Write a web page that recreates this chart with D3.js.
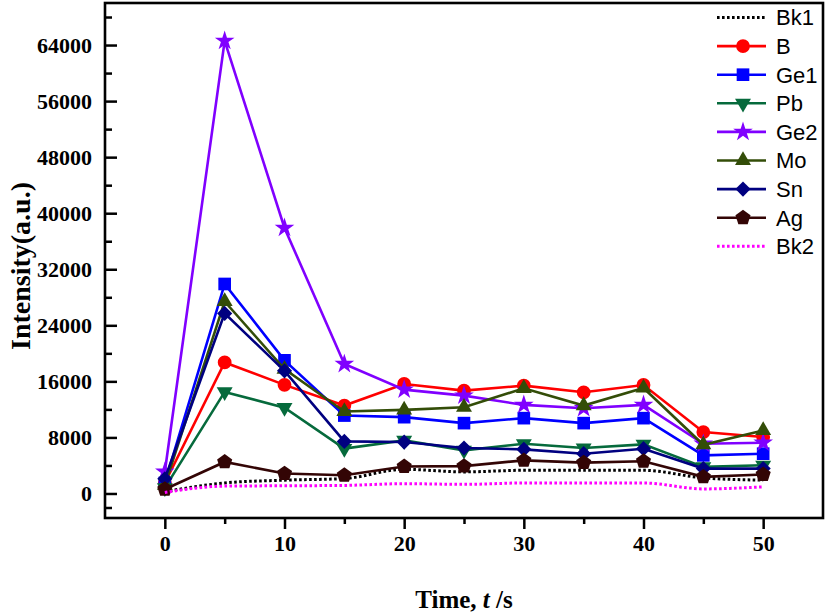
<!DOCTYPE html>
<html><head><meta charset="utf-8">
<script src="https://cdn.jsdelivr.net/npm/d3@7"></script>
<style>body{margin:0;background:#fff}</style>
</head><body><svg id="c" width="829" height="616"></svg>
<script>
const times = [0,5,10,15,20,25,30,35,40,45,50];
const bk1 = [250, 1500, 1900, 2130, 3450, 3080, 3310, 3310, 3310, 2230, 1900];
const b   = [1500, 18700, 15500, 12550, 15630, 14680, 15390, 14440, 15480, 8760, 8050];
const ge1 = [1500, 29900, 19000, 11120, 10890, 10040, 10750, 10040, 10750, 5440, 5680];
const pb  = [800, 14500, 12250, 6400, 7570, 6160, 7100, 6490, 7010, 3790, 4020];
const ge2 = [3100, 64600, 37900, 18470, 14820, 13970, 12640, 12170, 12640, 7100, 7240];
const mo  = [1200, 27400, 17750, 11700, 11930, 12310, 15010, 12550, 15060, 6960, 8990];
const sn  = [2100, 25700, 17500, 7430, 7340, 6490, 6300, 5680, 6390, 3550, 3550];
const ag  = [600, 4500, 2840, 2600, 3850, 3900, 4730, 4400, 4590, 2370, 2700];
const bk2 = [150, 1050, 1100, 1150, 1400, 1300, 1500, 1500, 1500, 650, 950];
const seriesNames = ["Bk1","B","Ge1","Pb","Ge2","Mo","Sn","Ag","Bk2"];
const xTicks = [0,10,20,30,40,50];
const xMinor = [5,15,25,35,45];
const yTicks = [0,8000,16000,24000,32000,40000,48000,56000,64000];
const yMinor = [-2000,4000,12000,20000,28000,36000,44000,52000,60000,68000];

const pentagon = {draw(ctx, size){
  const r = Math.sqrt(size/2.378);
  for(let i=0;i<5;i++){const a=-Math.PI/2+i*2*Math.PI/5;
    const px=r*Math.cos(a), py=r*Math.sin(a);
    if(i===0) ctx.moveTo(px,py); else ctx.lineTo(px,py);}
  ctx.closePath();}};

const styles = {
  Bk1:{color:"#000000", dotted:true},
  B:{color:"#ff0000", sym:d3.symbolCircle, size:150},
  Ge1:{color:"#0000ff", sym:d3.symbolSquare, size:160},
  Pb:{color:"#066a3c", sym:d3.symbolTriangle, size:110, rot:180},
  Ge2:{color:"#8000ff", sym:d3.symbolStar, size:120},
  Mo:{color:"#334d08", sym:d3.symbolTriangle, size:110},
  Sn:{color:"#000080", sym:d3.symbolSquare, size:115, rot:45},
  Ag:{color:"#330505", sym:pentagon, size:150},
  Bk2:{color:"#ff00ff", dotted:true}
};
const values = {Bk1:bk1,B:b,Ge1:ge1,Pb:pb,Ge2:ge2,Mo:mo,Sn:sn,Ag:ag,Bk2:bk2};

const svg = d3.select("#c");
const L=105,R=823,T=3,B=518;
const x = d3.scaleLinear().domain([-5,55]).range([L,R]);
const y = d3.scaleLinear().domain([-3500,70000]).range([B,T]);
const serif = "'Liberation Serif','Times New Roman',serif";

const gx = svg.append("g").attr("transform",`translate(0,${B})`)
  .call(d3.axisBottom(x).tickValues(xTicks).tickSize(11).tickPadding(6).tickFormat(d3.format("d")));
const gxm = svg.append("g").attr("transform",`translate(0,${B})`)
  .call(d3.axisBottom(x).tickValues(xMinor).tickSize(6).tickFormat(""));
const gy = svg.append("g").attr("transform",`translate(${L},0)`)
  .call(d3.axisLeft(y).tickValues(yTicks).tickSize(-12).tickPadding(12).tickFormat(d3.format("d")));
const gym = svg.append("g").attr("transform",`translate(${L},0)`)
  .call(d3.axisLeft(y).tickValues(yMinor).tickSize(-7).tickFormat(""));
[gx,gxm,gy,gym].forEach(g=>{
  g.select(".domain").remove();
  g.selectAll(".tick line").attr("stroke","#000").attr("stroke-width",2.5);
  g.selectAll("text").attr("font-family",serif).attr("font-weight","bold").attr("font-size",22).attr("fill","#000");
});
gy.selectAll("text").attr("dx",-1);

const line = d3.line().x((d,i)=>x(times[i])).y(d=>y(d));
const smooth = d3.line().x((d,i)=>x(times[i])).y(d=>y(d)).curve(d3.curveMonotoneX);
seriesNames.forEach(n=>{
  const s = styles[n], v = values[n];
  const g = svg.append("g");
  g.append("path").attr("d",(s.dotted?smooth:line)(v)).attr("fill","none")
    .attr("stroke",s.color).attr("stroke-width",s.dotted?3:2.6)
    .attr("stroke-dasharray",s.dotted?"2.6,2.4":null);
  if(s.sym){
    const sp = d3.symbol().type(s.sym).size(s.size);
    g.selectAll("path.m").data(v).join("path").attr("class","m")
      .attr("d",sp).attr("fill",s.color)
      .attr("transform",(d,i)=>`translate(${x(times[i])},${y(d)}) rotate(${s.rot||0})`);
  }
});

svg.append("rect").attr("x",L).attr("y",T).attr("width",R-L).attr("height",B-T)
  .attr("fill","none").attr("stroke","#000").attr("stroke-width",2.6);

const lg = svg.append("g");
seriesNames.forEach((n,i)=>{
  const s = styles[n], cy = 17.5 + i*28.6;
  lg.append("line").attr("x1",717).attr("x2",766).attr("y1",cy).attr("y2",cy)
    .attr("stroke",s.color).attr("stroke-width",s.dotted?3:2.6)
    .attr("stroke-dasharray",s.dotted?"2.6,2.4":null);
  if(s.sym){
    lg.append("path").attr("d",d3.symbol().type(s.sym).size(s.size)())
      .attr("fill",s.color).attr("transform",`translate(743,${cy}) rotate(${s.rot||0})`);
  }
  lg.append("text").attr("x",776).attr("y",cy).attr("dy","0.36em")
    .attr("font-family","'Liberation Sans',Arial,sans-serif").attr("font-size",22)
    .attr("fill","#000").text(n);
});

const xt = svg.append("text").attr("x",(L+R)/2).attr("y",608).attr("text-anchor","middle")
  .attr("font-family",serif).attr("font-weight","bold").attr("font-size",25);
xt.append("tspan").text("Time, ");
xt.append("tspan").attr("font-style","italic").text("t");
xt.append("tspan").text(" /s");
svg.append("text").attr("transform",`translate(30,266) rotate(-90)`).attr("text-anchor","middle")
  .attr("font-family",serif).attr("font-weight","bold").attr("font-size",28).text("Intensity(a.u.)");
</script></body></html>
